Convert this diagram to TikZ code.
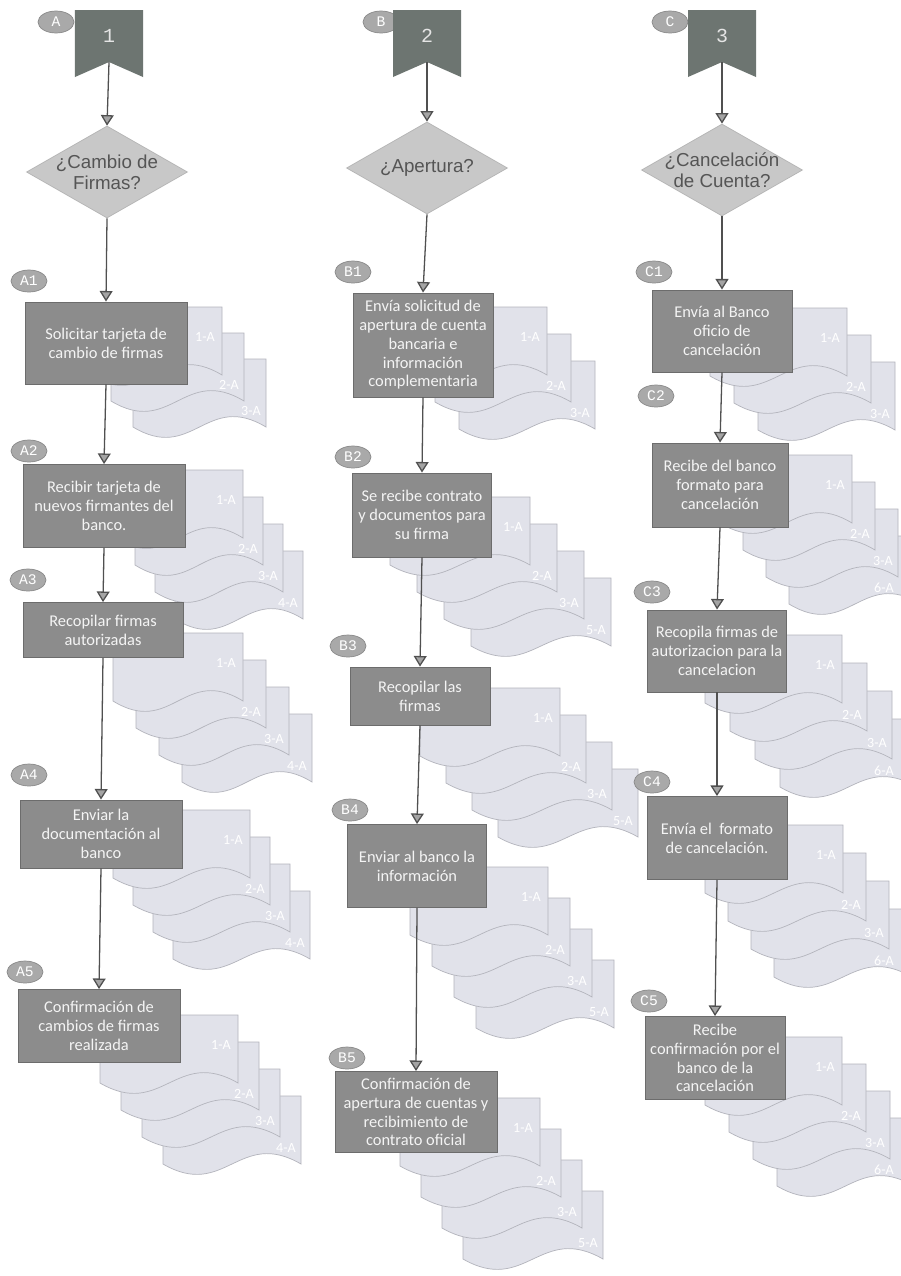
\documentclass[tikz,border=0pt]{standalone}
\usepackage{fontspec}
\setmainfont{Carlito}
\newfontfamily\diafont{Liberation Sans}
\newfontfamily\numfont{Liberation Mono}
\usetikzlibrary{calc}
\usetikzlibrary{arrows.meta}
\usetikzlibrary{shapes.geometric}
\definecolor{BannerGray}{HTML}{6D7571}
\definecolor{BoxGray}{HTML}{8C8C8C}
\definecolor{BoxEdge}{HTML}{6C6C6C}
\definecolor{BoxText}{HTML}{F4F4F4}
\definecolor{DiamondGray}{HTML}{C8C8C8}
\definecolor{DiamondEdge}{HTML}{B4B4B4}
\definecolor{DiamondText}{HTML}{555555}
\definecolor{BubbleGray}{HTML}{A9A9A9}
\definecolor{BubbleEdge}{HTML}{8A8A8A}
\definecolor{PageFill}{HTML}{E1E2EA}
\definecolor{PageEdge}{HTML}{B3B4BC}
\definecolor{ArrowGray}{HTML}{505050}
\definecolor{TipGray}{HTML}{A4A4A4}

\tikzset{
  proc/.style={rectangle, fill=BoxGray, draw=BoxEdge, line width=0.8pt,
    text=BoxText, align=center, inner sep=2pt,
    font=\fontsize{14}{16}\selectfont},
  dims/.style 2 args={minimum width=#1*0.03cm, minimum height=#2*0.03cm},
  bubble/.style={ellipse, fill=BubbleGray, draw=BubbleEdge, line width=0.6pt,
    minimum width=1.08cm, minimum height=0.66cm, inner sep=0pt,
    text=white, font=\numfont\fontsize{12.5}{12.5}\selectfont},
  banner/.style={minimum width=2.04cm, minimum height=2.01cm, inner sep=0pt,
    text depth=0.45cm, text=white!90!black, font=\numfont\fontsize{17}{17}\selectfont,
    path picture={\fill[BannerGray] (path picture bounding box.north west)
      -- (path picture bounding box.north east)
      -- (path picture bounding box.south east)
      -- ([yshift=0.45cm]path picture bounding box.south)
      -- (path picture bounding box.south west) -- cycle;}},
  decision/.style={diamond, fill=DiamondGray, draw=DiamondEdge, line width=0.6pt,
    minimum width=4.83cm, minimum height=2.76cm, inner sep=0pt},
  dtext/.style={align=center, text=DiamondText, font=\diafont\fontsize{16}{18}\selectfont},
  page/.style={fill=PageFill, draw=PageEdge, line width=0.6pt},
  pagelabel/.style={text=white, inner sep=0pt, font=\fontsize{12}{12}\selectfont},
  flow/.style={draw=ArrowGray, line width=1.1pt,
    -{Triangle[width=11pt,length=9pt,fill=TipGray]}},
}

% stack of pages: x, y (top left of front page), width, dx, dy, pages, labels back to front
\newcommand{\docstack}[7]{%
  \foreach \lab [count=\k from 0] in {#7} {
    \pgfmathtruncatemacro{\back}{#6-1-\k}
    \pgfmathsetmacro{\px}{#1+\back*#4}
    \pgfmathsetmacro{\py}{#2+\back*#5}
    \pgfmathsetmacro{\pr}{\px+#3}
    \pgfmathsetmacro{\lx}{min(\pr-15,884)}
    \draw[page] (\px,\py) -- (\pr,\py) -- (\pr,\py+68)
      .. controls (\px+0.55*#3,\py+32) and (\px+0.45*#3,\py+104) .. (\px,\py+68) -- cycle;
    \ifnum\back=0
      \node[pagelabel] at (\pr-17,\py+30) {\lab};
    \else
      \node[pagelabel] at (\lx,\py+52) {\lab};
    \fi
  }%
}

\begin{document}
\begin{tikzpicture}[x=0.03cm, y=-0.03cm]
  \fill[white] (0,0) rectangle (901,1276);
  \useasboundingbox (0,0) rectangle (901,1276);

  % pages behind the steps
  \docstack{89}{307}{133}{22}{26}{3}{3-A,2-A,1-A}
  \docstack{115}{470}{128}{20}{27}{4}{4-A,3-A,2-A,1-A}
  \docstack{113}{633}{130}{23}{27}{4}{4-A,3-A,2-A,1-A}
  \docstack{113}{810}{137}{20}{27}{4}{4-A,3-A,2-A,1-A}
  \docstack{100}{1015}{138}{21}{27}{4}{4-A,3-A,2-A,1-A}

  \docstack{411}{307}{136}{24}{27}{3}{3-A,2-A,1-A}
  \docstack{390}{497}{140}{27}{27}{4}{5-A,3-A,2-A,1-A}
  \docstack{420}{688}{140}{26}{27}{4}{5-A,3-A,2-A,1-A}
  \docstack{410}{867}{138}{22}{31}{4}{5-A,3-A,2-A,1-A}
  \docstack{400}{1098}{140}{21}{31}{4}{5-A,3-A,2-A,1-A}

  \docstack{710}{308}{137}{24}{27}{3}{3-A,2-A,1-A}
  \docstack{720}{455}{132}{23}{27}{4}{6-A,3-A,2-A,1-A}
  \docstack{705}{635}{137}{25}{28}{4}{6-A,3-A,2-A,1-A}
  \docstack{705}{825}{138}{23}{28}{4}{6-A,3-A,2-A,1-A}
  \docstack{705}{1037}{137}{24}{27}{4}{6-A,3-A,2-A,1-A}

  % heads of the three columns
  \node[bubble] (tagA) at (56,22) {A};
  \node[banner] (banA) at (109,43.5) {1};
  \node[decision, label={[dtext]center:{¿Cambio de\\Firmas?}}] (decA) at (107,172) {};

  \node[bubble] (tagB) at (381,22) {B};
  \node[banner] (banB) at (427,43.5) {2};
  \node[decision, label={[dtext]center:{¿Apertura?}}] (decB) at (427,168) {};

  \node[bubble] (tagC) at (670,22) {C};
  \node[banner] (banC) at (722,43.5) {3};
  \node[decision, label={[dtext]center:{¿Cancelación\\de Cuenta?}}] (decC) at (722,170) {};

  % column A
  \node[bubble] (tagA1) at (29,281) {A1};
  \node[proc, dims={162}{82}] (A1) at (106,343) {Solicitar tarjeta de\\cambio de firmas};
  \node[bubble] (tagA2) at (29,451) {A2};
  \node[proc, dims={162}{83}] (A2) at (104,506) {Recibir tarjeta de\\nuevos firmantes del\\banco.};
  \node[bubble] (tagA3) at (28,580) {A3};
  \node[proc, dims={160}{55}] (A3) at (103,630) {Recopilar firmas\\autorizadas};
  \node[bubble] (tagA4) at (29,775) {A4};
  \node[proc, dims={162}{68}] (A4) at (101,834) {Enviar la\\documentación al\\banco};
  \node[bubble] (tagA5) at (25,972) {A5};
  \node[proc, dims={162}{73}] (A5) at (99,1026) {Confirmación de\\cambios de firmas\\realizada};

  % column B
  \node[bubble] (tagB1) at (353,272) {B1};
  \node[proc, dims={140}{104}] (B1) at (423,345) {Envía solicitud de\\apertura de cuenta\\bancaria e\\información\\complementaria};
  \node[bubble] (tagB2) at (353,457) {B2};
  \node[proc, dims={139}{84}] (B2) at (422,515) {Se recibe contrato\\y documentos para\\su firma};
  \node[bubble] (tagB3) at (348,646) {B3};
  \node[proc, dims={140}{58}] (B3) at (420,696) {Recopilar las\\firmas};
  \node[bubble] (tagB4) at (350,810) {B4};
  \node[proc, dims={139}{83}] (B4) at (417,866) {Enviar al banco la\\información};
  \node[bubble] (tagB5) at (347,1058) {B5};
  \node[proc, dims={162}{81}] (B5) at (416,1112) {Confirmación de\\apertura de cuentas y\\recibimiento de\\contrato oficial};

  % column C
  \node[bubble] (tagC1) at (654,272) {C1};
  \node[proc, dims={140}{82}] (C1) at (722,331) {Envía al Banco\\oficio de\\cancelación};
  \node[bubble] (tagC2) at (656,396) {C2};
  \node[proc, dims={136}{84}] (C2) at (720,485) {Recibe del banco\\formato para\\cancelación};
  \node[bubble] (tagC3) at (652,592) {C3};
  \node[proc, dims={139}{82}] (C3) at (717,651) {Recopila firmas de\\autorizacion para la\\cancelacion};
  \node[bubble] (tagC4) at (652,782) {C4};
  \node[proc, dims={140}{83}] (C4) at (717,838) {Envía el~ formato\\de cancelación.};
  \node[bubble] (tagC5) at (649,1001) {C5};
  \node[proc, dims={140}{83}] (C5) at (715,1058) {Recibe\\confirmación por el\\banco de la\\cancelación};

  % connectors
  \foreach \c in {A,B,C} {
    \draw[flow] ([yshift=0.45cm]ban\c.south) -- (dec\c.north);
    \draw[flow] (dec\c.south) -- (\c1.north);
    \foreach \i [evaluate=\i as \j using int(\i+1)] in {1,...,4}
      \draw[flow] (\c\i.south) -- (\c\j.north);
  }

\end{tikzpicture}
\end{document}
